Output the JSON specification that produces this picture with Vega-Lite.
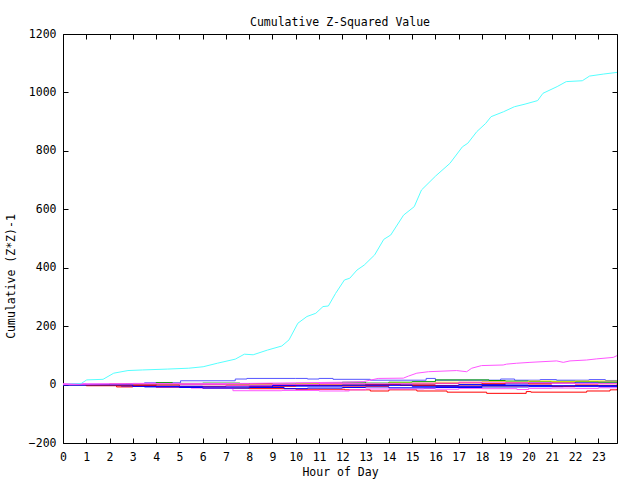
{
  "$schema": "https://vega.github.io/schema/vega-lite/v6.json",
  "width": 554,
  "height": 409,
  "autosize": {"type": "none"},
  "padding": {"left": 63, "top": 34, "right": 23, "bottom": 37},
  "background": "white",
  "title": {"text": "Cumulative Z-Squared Value", "font": "DejaVu Sans Mono", "fontSize": 11.5, "fontWeight": "normal", "color": "black", "anchor": "middle", "offset": 0},
  "datasets": {
    "big": [
      {"s":"cyan","h":0.0,"v":0},{"s":"cyan","h":0.79,"v":4},{"s":"cyan","h":1.02,"v":16},{"s":"cyan","h":1.72,"v":18},{"s":"cyan","h":2.18,"v":39},{"s":"cyan","h":2.79,"v":48},{"s":"cyan","h":3.41,"v":50},{"s":"cyan","h":4.48,"v":53},{"s":"cyan","h":5.4,"v":56},{"s":"cyan","h":6.02,"v":61},{"s":"cyan","h":6.63,"v":73},{"s":"cyan","h":7.4,"v":87},{"s":"cyan","h":7.79,"v":104},{"s":"cyan","h":8.17,"v":102},{"s":"cyan","h":8.78,"v":118},{"s":"cyan","h":9.4,"v":132},{"s":"cyan","h":9.71,"v":153},{"s":"cyan","h":10.09,"v":210},{"s":"cyan","h":10.48,"v":233},{"s":"cyan","h":10.86,"v":244},{"s":"cyan","h":11.17,"v":267},{"s":"cyan","h":11.4,"v":269},{"s":"cyan","h":11.71,"v":312},{"s":"cyan","h":12.09,"v":358},{"s":"cyan","h":12.32,"v":364},{"s":"cyan","h":12.63,"v":392},{"s":"cyan","h":12.94,"v":409},{"s":"cyan","h":13.39,"v":444},{"s":"cyan","h":13.78,"v":497},{"s":"cyan","h":14.08,"v":512},{"s":"cyan","h":14.63,"v":580},{"s":"cyan","h":15.09,"v":609},{"s":"cyan","h":15.4,"v":666},{"s":"cyan","h":16.01,"v":714},{"s":"cyan","h":16.62,"v":757},{"s":"cyan","h":17.16,"v":814},{"s":"cyan","h":17.39,"v":826},{"s":"cyan","h":17.78,"v":866},{"s":"cyan","h":18.16,"v":894},{"s":"cyan","h":18.39,"v":917},{"s":"cyan","h":18.93,"v":934},{"s":"cyan","h":19.39,"v":951},{"s":"cyan","h":19.85,"v":960},{"s":"cyan","h":20.39,"v":972},{"s":"cyan","h":20.62,"v":997},{"s":"cyan","h":21.23,"v":1020},{"s":"cyan","h":21.62,"v":1037},{"s":"cyan","h":22.31,"v":1040},{"s":"cyan","h":22.62,"v":1056},{"s":"cyan","h":23.23,"v":1063},{"s":"cyan","h":23.84,"v":1069},
      {"s":"mag","h":0.0,"v":0},{"s":"mag","h":2,"v":2},{"s":"mag","h":5,"v":3},{"s":"mag","h":8,"v":4},{"s":"mag","h":10,"v":6},{"s":"mag","h":12,"v":8},{"s":"mag","h":12.9,"v":10},{"s":"mag","h":13.54,"v":21},{"s":"mag","h":14.62,"v":22},{"s":"mag","h":14.84,"v":29},{"s":"mag","h":15.2,"v":39},{"s":"mag","h":15.7,"v":44},{"s":"mag","h":16.91,"v":48},{"s":"mag","h":17.34,"v":44},{"s":"mag","h":17.56,"v":56},{"s":"mag","h":17.98,"v":65},{"s":"mag","h":18.91,"v":67},{"s":"mag","h":19.06,"v":70},{"s":"mag","h":19.49,"v":73},{"s":"mag","h":20.06,"v":76},{"s":"mag","h":21.21,"v":81},{"s":"mag","h":21.49,"v":76},{"s":"mag","h":21.78,"v":81},{"s":"mag","h":22.49,"v":84},{"s":"mag","h":22.93,"v":88},{"s":"mag","h":23.64,"v":93},{"s":"mag","h":23.85,"v":101}
    ],
    "small": [
      {"s":"lav","h":0,"v":0},{"s":"lav","h":1,"v":1},{"s":"lav","h":2.7,"v":2},{"s":"lav","h":3.5,"v":6},{"s":"lav","h":5.05,"v":13},{"s":"lav","h":7.4,"v":19},{"s":"lav","h":7.9,"v":21},{"s":"lav","h":10,"v":21},{"s":"lav","h":10.5,"v":19},{"s":"lav","h":11,"v":21},{"s":"lav","h":11.6,"v":18},{"s":"lav","h":13.2,"v":15},{"s":"lav","h":15.6,"v":21},{"s":"lav","h":16.0,"v":15},{"s":"lav","h":18.8,"v":19},{"s":"lav","h":19.4,"v":15},{"s":"lav","h":20.5,"v":17},{"s":"lav","h":21.2,"v":15},{"s":"lav","h":22.6,"v":17},{"s":"lav","h":23.3,"v":14},{"s":"lav","h":23.8,"v":14},
      {"s":"red1","h":0,"v":0},{"s":"red1","h":1,"v":-3},{"s":"red1","h":2.3,"v":-8},{"s":"red1","h":3,"v":-6},{"s":"red1","h":4,"v":-9},{"s":"red1","h":5,"v":-10},{"s":"red1","h":6,"v":-12},{"s":"red1","h":8,"v":-14},{"s":"red1","h":10,"v":-16},{"s":"red1","h":12.1,"v":-18},{"s":"red1","h":13.2,"v":-22},{"s":"red1","h":14,"v":-18},{"s":"red1","h":15.2,"v":-22},{"s":"red1","h":16.5,"v":-26},{"s":"red1","h":18.2,"v":-30},{"s":"red1","h":19.9,"v":-24},{"s":"red1","h":20.1,"v":-26},{"s":"red1","h":22.5,"v":-22},{"s":"red1","h":23.5,"v":-18},{"s":"red1","h":23.8,"v":-15},
      {"s":"pink","h":0,"v":2},{"s":"pink","h":1,"v":1},{"s":"pink","h":2,"v":-2},{"s":"pink","h":4,"v":-8},{"s":"pink","h":5.5,"v":-12},{"s":"pink","h":7.3,"v":-21},{"s":"pink","h":9.4,"v":-20},{"s":"pink","h":11,"v":-22},{"s":"pink","h":12.3,"v":-18},{"s":"pink","h":13,"v":-15},{"s":"pink","h":15.5,"v":-14},{"s":"pink","h":16,"v":-16},{"s":"pink","h":17,"v":-13},{"s":"pink","h":18,"v":-14},{"s":"pink","h":19.5,"v":-17},{"s":"pink","h":20,"v":-13},{"s":"pink","h":21,"v":-12},{"s":"pink","h":22,"v":-13},{"s":"pink","h":23,"v":-11},{"s":"pink","h":23.8,"v":-9},
      {"s":"blue1","h":0,"v":-2},{"s":"blue1","h":1,"v":-3},{"s":"blue1","h":2.5,"v":-5},{"s":"blue1","h":3.5,"v":-8},{"s":"blue1","h":5,"v":-10},{"s":"blue1","h":6,"v":-12},{"s":"blue1","h":8,"v":-10},{"s":"blue1","h":9.5,"v":-14},{"s":"blue1","h":10.5,"v":-12},{"s":"blue1","h":12,"v":-10},{"s":"blue1","h":13,"v":-8},{"s":"blue1","h":14,"v":-11},{"s":"blue1","h":16,"v":-10},{"s":"blue1","h":18,"v":-8},{"s":"blue1","h":20,"v":-7},{"s":"blue1","h":21.5,"v":-6},{"s":"blue1","h":23,"v":-7},{"s":"blue1","h":23.8,"v":-5},
      {"s":"blue2","h":0,"v":0},{"s":"blue2","h":2,"v":-1},{"s":"blue2","h":4,"v":2},{"s":"blue2","h":6,"v":0},{"s":"blue2","h":8,"v":-3},{"s":"blue2","h":10,"v":-5},{"s":"blue2","h":12,"v":-4},{"s":"blue2","h":14,"v":-2},{"s":"blue2","h":16,"v":-3},{"s":"blue2","h":17,"v":0},{"s":"blue2","h":19,"v":2},{"s":"blue2","h":20,"v":6},{"s":"blue2","h":21,"v":5},{"s":"blue2","h":22,"v":8},{"s":"blue2","h":23,"v":9},{"s":"blue2","h":23.8,"v":10},
      {"s":"green","h":0,"v":0},{"s":"green","h":1,"v":-3},{"s":"green","h":2,"v":-2},{"s":"green","h":4,"v":7},{"s":"green","h":4.7,"v":4},{"s":"green","h":6,"v":5},{"s":"green","h":7.6,"v":3},{"s":"green","h":9,"v":2},{"s":"green","h":10,"v":4},{"s":"green","h":11,"v":6},{"s":"green","h":12,"v":8},{"s":"green","h":13,"v":5},{"s":"green","h":14,"v":8},{"s":"green","h":15,"v":10},{"s":"green","h":16,"v":16},{"s":"green","h":18.3,"v":14},{"s":"green","h":19,"v":12},{"s":"green","h":20,"v":10},{"s":"green","h":21,"v":11},{"s":"green","h":22,"v":10},{"s":"green","h":23,"v":8},{"s":"green","h":23.8,"v":10},
      {"s":"yellow","h":0,"v":0},{"s":"yellow","h":3,"v":2},{"s":"yellow","h":6,"v":1},{"s":"yellow","h":10,"v":3},{"s":"yellow","h":13,"v":2},{"s":"yellow","h":14,"v":5},{"s":"yellow","h":16,"v":8},{"s":"yellow","h":18,"v":10},{"s":"yellow","h":19,"v":8},{"s":"yellow","h":20,"v":12},{"s":"yellow","h":21,"v":10},{"s":"yellow","h":22,"v":12},{"s":"yellow","h":23.8,"v":11},
      {"s":"red2","h":0,"v":0},{"s":"red2","h":1,"v":-4},{"s":"red2","h":3,"v":-3},{"s":"red2","h":4,"v":-2},{"s":"red2","h":5,"v":-6},{"s":"red2","h":7,"v":-4},{"s":"red2","h":8,"v":-6},{"s":"red2","h":10,"v":-3},{"s":"red2","h":12,"v":-5},{"s":"red2","h":14,"v":2},{"s":"red2","h":16,"v":4},{"s":"red2","h":17,"v":6},{"s":"red2","h":18,"v":3},{"s":"red2","h":19,"v":6},{"s":"red2","h":20,"v":3},{"s":"red2","h":21,"v":5},{"s":"red2","h":22,"v":2},{"s":"red2","h":23,"v":3},{"s":"red2","h":23.8,"v":0},
      {"s":"red3","h":0,"v":0},{"s":"red3","h":2,"v":2},{"s":"red3","h":4,"v":3},{"s":"red3","h":5,"v":1},{"s":"red3","h":7,"v":3},{"s":"red3","h":9,"v":0},{"s":"red3","h":11,"v":2},{"s":"red3","h":13,"v":0},{"s":"red3","h":14.5,"v":-3},{"s":"red3","h":16,"v":-5},{"s":"red3","h":18,"v":-4},{"s":"red3","h":20,"v":-2},{"s":"red3","h":21,"v":-5},{"s":"red3","h":22,"v":-3},{"s":"red3","h":23.8,"v":-4},
      {"s":"mag3","h":0,"v":3},{"s":"mag3","h":1,"v":2},{"s":"mag3","h":3,"v":4},{"s":"mag3","h":5,"v":1},{"s":"mag3","h":7,"v":-2},{"s":"mag3","h":9,"v":1},{"s":"mag3","h":11,"v":4},{"s":"mag3","h":13,"v":3},{"s":"mag3","h":15,"v":5},{"s":"mag3","h":17,"v":8},{"s":"mag3","h":19,"v":6},{"s":"mag3","h":21,"v":4},{"s":"mag3","h":23.8,"v":6},
      {"s":"blue3","h":0,"v":-1},{"s":"blue3","h":3,"v":-6},{"s":"blue3","h":6,"v":-8},{"s":"blue3","h":9,"v":-4},{"s":"blue3","h":12,"v":-2},{"s":"blue3","h":15,"v":-6},{"s":"blue3","h":18,"v":-3},{"s":"blue3","h":21,"v":-4},{"s":"blue3","h":23.8,"v":-3}
    ]
  },
  "layer": [
    {"data": {"name": "small"}, "mark": {"type": "line", "interpolate": "step-after", "strokeWidth": 1, "clip": true},
      "encoding": {
        "x": {"field": "h", "type": "quantitative", "scale": {"domain": [0, 23.8], "nice": false, "zero": false},
          "axis": {"values": [0,1,2,3,4,5,6,7,8,9,10,11,12,13,14,15,16,17,18,19,20,21,22,23], "format": "d", "title": "Hour of Day", "tickSize": -5, "labelPadding": 13, "labelFlush": false, "titleY": 29, "titleBaseline": "middle"}},
        "y": {"field": "v", "type": "quantitative", "scale": {"domain": [-200, 1200], "nice": false, "zero": false},
          "axis": {"values": [-200,0,200,400,600,800,1000,1200], "format": "d", "title": "Cumulative (Z*Z)-1", "tickSize": -5, "labelPadding": 12, "labelFlush": false, "titleX": -52, "titleY": 242, "titleAngle": -90, "titleAlign": "center", "titleBaseline": "middle"}},
        "color": {"field": "s", "type": "nominal", "legend": null,
          "scale": {"domain": ["cyan","mag","lav","red1","pink","blue1","blue2","green","yellow","red2","red3","mag3","blue3"],
            "range": ["#55ffff","#ff55ff","#5555ff","#ff0000","#ff55ff","#0000ff","#0000ff","#00a000","#e8e800","#ff0000","#dd0000","#ff55ff","#0000ff"]}}
      }},
    {"data": {"name": "big"}, "mark": {"type": "line", "strokeWidth": 1, "clip": true},
      "encoding": {
        "x": {"field": "h", "type": "quantitative", "axis": {"orient": "top", "values": [0,1,2,3,4,5,6,7,8,9,10,11,12,13,14,15,16,17,18,19,20,21,22,23], "labels": false, "title": null, "tickSize": -5}},
        "y": {"field": "v", "type": "quantitative", "axis": {"orient": "right", "values": [-200,0,200,400,600,800,1000,1200], "labels": false, "title": null, "tickSize": -5}},
        "color": {"field": "s", "type": "nominal", "legend": null}
      }}
  ],
  "resolve": {"axis": {"x": "independent", "y": "independent"}},
  "config": {
    "font": "DejaVu Sans Mono",
    "view": {"stroke": "black", "strokeWidth": 1},
    "axis": {"domain": false, "grid": false, "tickColor": "black", "tickWidth": 1, "labelFont": "DejaVu Sans Mono", "labelFontSize": 11.5, "labelColor": "black", "titleFont": "DejaVu Sans Mono", "titleFontSize": 11.5, "titleFontWeight": "normal", "titleColor": "black"}
  }
}
